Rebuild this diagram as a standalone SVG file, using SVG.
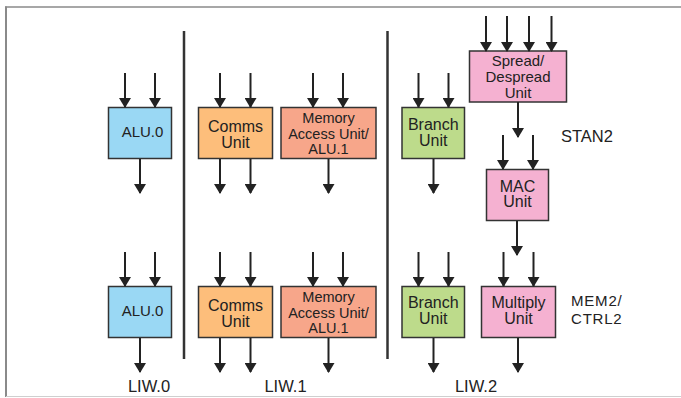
<svg xmlns="http://www.w3.org/2000/svg" width="681" height="398" viewBox="0 0 681 398">
  <style>
    .box { stroke: #333; stroke-width: 1.5; }
    .alu { fill: #9ad8f4; }
    .comms { fill: #fdbe7b; }
    .mem { fill: #f7a68a; }
    .branch { fill: #bddb8b; }
    .dsp { fill: #f5b1d1; }
    text { font-family: "Liberation Sans", Arial, sans-serif; fill: #222; text-anchor: middle; }
    .t16 { font-size: 16px; }
    .t15 { font-size: 15px; }
    .t14 { font-size: 14.5px; }
    .lbl { font-size: 16.5px; text-anchor: start; }
    .lbl2 { font-size: 15px; text-anchor: start; letter-spacing: 0.8px; }
    .liw { font-size: 16.5px; }
    .arrow { stroke: #222; stroke-width: 2; fill: none; marker-end: url(#head); }
    .divider { stroke: #333; stroke-width: 2.5; }
  </style>
  <defs>
    <marker id="head" viewBox="0 0 10 12" refX="9" refY="6" markerWidth="10" markerHeight="12" markerUnits="userSpaceOnUse" orient="auto">
      <path d="M0,0 L10,6 L0,12 Z" fill="#222"/>
    </marker>
  </defs>

  <!-- frame -->
  <rect x="0" y="0" width="681" height="398" fill="#fff"/>
  <line x1="5" y1="7" x2="681" y2="7" stroke="#8a8a8a" stroke-width="1.6"/>
  <line x1="6" y1="6.5" x2="6" y2="397" stroke="#8a8a8a" stroke-width="2"/>
  <line x1="6" y1="396.5" x2="681" y2="396.5" stroke="#cfcfcf" stroke-width="1"/>

  <!-- LIW separators -->
  <line class="divider" x1="184" y1="31" x2="184" y2="359"/>
  <line class="divider" x1="387.5" y1="31" x2="387.5" y2="359"/>

  <!-- LIW.0 -->
  <g id="alu0-top">
    <rect class="box alu" x="108.5" y="107.5" width="63" height="51"/>
    <text class="t15" x="142.5" y="137">ALU.0</text>
  </g>
  <g id="alu0-bottom">
    <rect class="box alu" x="108.5" y="286.5" width="63" height="51"/>
    <text class="t15" x="142.5" y="316">ALU.0</text>
  </g>

  <!-- LIW.1 -->
  <g id="comms-top">
    <rect class="box comms" x="198.5" y="107.5" width="74" height="51"/>
    <text class="t16" x="235.5" y="131.5">Comms</text>
    <text class="t16" x="235.5" y="147.5">Unit</text>
  </g>
  <g id="comms-bottom">
    <rect class="box comms" x="198.5" y="286.5" width="74" height="51"/>
    <text class="t16" x="235.5" y="310.5">Comms</text>
    <text class="t16" x="235.5" y="326.5">Unit</text>
  </g>
  <g id="mem-top">
    <rect class="box mem" x="281" y="107.5" width="95" height="51"/>
    <text class="t14" x="328.5" y="123">Memory</text>
    <text class="t14" x="328.5" y="138.5">Access Unit/</text>
    <text class="t14" x="328.5" y="154">ALU.1</text>
  </g>
  <g id="mem-bottom">
    <rect class="box mem" x="281" y="286.5" width="95" height="51"/>
    <text class="t14" x="328.5" y="302">Memory</text>
    <text class="t14" x="328.5" y="317.5">Access Unit/</text>
    <text class="t14" x="328.5" y="333">ALU.1</text>
  </g>

  <!-- LIW.2 -->
  <g id="branch-top">
    <rect class="box branch" x="402" y="107.5" width="62.5" height="51"/>
    <text class="t16" x="433.25" y="129.5">Branch</text>
    <text class="t16" x="433.25" y="145.5">Unit</text>
  </g>
  <g id="branch-bottom">
    <rect class="box branch" x="402" y="286.5" width="62.5" height="51"/>
    <text class="t16" x="433.25" y="308">Branch</text>
    <text class="t16" x="433.25" y="324">Unit</text>
  </g>
  <g id="spread">
    <rect class="box dsp" x="469.5" y="51" width="97" height="51"/>
    <text class="t15" x="518" y="65.5">Spread/</text>
    <text class="t15" x="518" y="81.5">Despread</text>
    <text class="t15" x="518" y="97.5">Unit</text>
  </g>
  <g id="mac">
    <rect class="box dsp" x="486.5" y="169.5" width="62" height="51"/>
    <text class="t16" x="517.5" y="191.5">MAC</text>
    <text class="t16" x="517.5" y="207">Unit</text>
  </g>
  <g id="multiply">
    <rect class="box dsp" x="481.5" y="286.5" width="74" height="51"/>
    <text class="t16" x="518.5" y="308">Multiply</text>
    <text class="t16" x="518.5" y="324">Unit</text>
  </g>

  <!-- group labels -->
  <g id="labels">
    <text class="lbl" x="561" y="142">STAN2</text>
    <text class="lbl2" x="571" y="306">MEM2/</text>
    <text class="lbl2" x="571" y="323.5">CTRL2</text>
    <text class="liw" x="149" y="392">LIW.0</text>
    <text class="liw" x="285.5" y="392">LIW.1</text>
    <text class="liw" x="476" y="392">LIW.2</text>
  </g>

  <!-- connectors -->
  <g id="connectors">
    <!-- ALU.0 -->
    <line class="arrow" x1="125" y1="73" x2="125" y2="107"/>
    <line class="arrow" x1="155" y1="73" x2="155" y2="107"/>
    <line class="arrow" x1="140" y1="159" x2="140" y2="193"/>
    <line class="arrow" x1="125" y1="252" x2="125" y2="286"/>
    <line class="arrow" x1="155" y1="252" x2="155" y2="286"/>
    <line class="arrow" x1="140" y1="338" x2="140" y2="372"/>
    <!-- Comms -->
    <line class="arrow" x1="220" y1="73" x2="220" y2="107"/>
    <line class="arrow" x1="250.5" y1="73" x2="250.5" y2="107"/>
    <line class="arrow" x1="220" y1="159" x2="220" y2="193"/>
    <line class="arrow" x1="250.5" y1="159" x2="250.5" y2="193"/>
    <line class="arrow" x1="220" y1="252" x2="220" y2="286"/>
    <line class="arrow" x1="250.5" y1="252" x2="250.5" y2="286"/>
    <line class="arrow" x1="220" y1="338" x2="220" y2="372"/>
    <line class="arrow" x1="250.5" y1="338" x2="250.5" y2="372"/>
    <!-- Memory Access -->
    <line class="arrow" x1="313" y1="73" x2="313" y2="107"/>
    <line class="arrow" x1="343" y1="73" x2="343" y2="107"/>
    <line class="arrow" x1="328.5" y1="159" x2="328.5" y2="193"/>
    <line class="arrow" x1="313" y1="252" x2="313" y2="286"/>
    <line class="arrow" x1="343" y1="252" x2="343" y2="286"/>
    <line class="arrow" x1="328.5" y1="338" x2="328.5" y2="372"/>
    <!-- Branch -->
    <line class="arrow" x1="418.5" y1="73" x2="418.5" y2="107"/>
    <line class="arrow" x1="448.5" y1="73" x2="448.5" y2="107"/>
    <line class="arrow" x1="433.5" y1="159" x2="433.5" y2="193"/>
    <line class="arrow" x1="418.5" y1="252" x2="418.5" y2="286"/>
    <line class="arrow" x1="448.5" y1="252" x2="448.5" y2="286"/>
    <line class="arrow" x1="433.5" y1="338" x2="433.5" y2="372"/>
    <!-- Spread/Despread -->
    <line class="arrow" x1="486" y1="16" x2="486" y2="51"/>
    <line class="arrow" x1="507" y1="16" x2="507" y2="51"/>
    <line class="arrow" x1="529" y1="16" x2="529" y2="51"/>
    <line class="arrow" x1="551.5" y1="16" x2="551.5" y2="51"/>
    <line class="arrow" x1="518" y1="102" x2="518" y2="137"/>
    <!-- MAC -->
    <line class="arrow" x1="503" y1="135" x2="503" y2="169"/>
    <line class="arrow" x1="533" y1="135" x2="533" y2="169"/>
    <line class="arrow" x1="517" y1="221" x2="517" y2="255"/>
    <!-- Multiply -->
    <line class="arrow" x1="503.5" y1="252" x2="503.5" y2="286"/>
    <line class="arrow" x1="533.5" y1="252" x2="533.5" y2="286"/>
    <line class="arrow" x1="518" y1="338" x2="518" y2="372"/>
  </g>
</svg>
